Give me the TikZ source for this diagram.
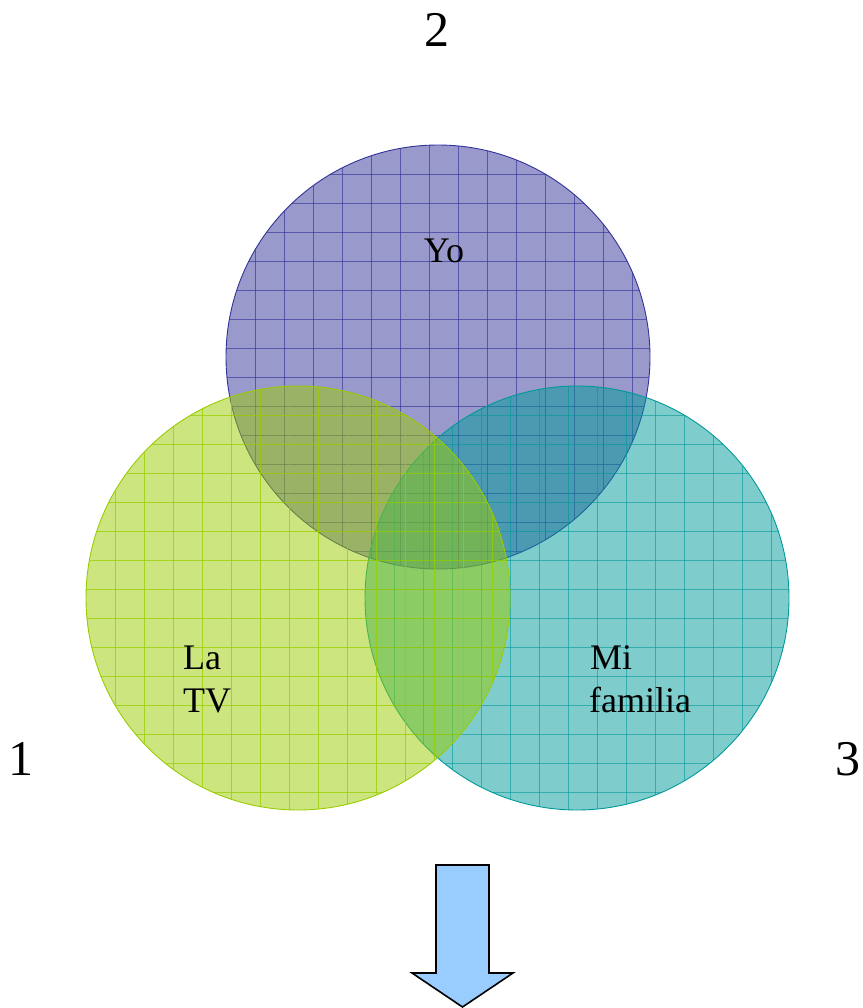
\documentclass[tikz,border=0pt]{standalone}
\usepackage{fontspec}
\setmainfont{Liberation Serif}
\definecolor{cTop}{RGB}{51,51,153}
\definecolor{cLeft}{RGB}{153,204,0}
\definecolor{cRight}{RGB}{0,153,153}
\definecolor{cArrow}{RGB}{153,204,255}
\tikzset{
  lab/.style={inner sep=0pt, font=\fontsize{36}{43}\selectfont},
  num/.style={inner sep=0pt, font=\fontsize{50}{60}\selectfont},
  arrowbox/.style={draw=black, line width=1.6pt, fill=cArrow, line join=miter},
}
\newcommand{\vennset}[4]{% center x, center y, color, grid opacity
  \fill[#3, fill opacity=0.5] (#1,#2) circle (212);
  \begin{scope}
    \clip (#1,#2) circle (212);
    \foreach \k in {1,...,14} {
      \draw[#3, line width=0.9pt, opacity=#4] (#1-212+29*\k, #2-215) -- (#1-212+29*\k, #2+215);
      \draw[#3, line width=0.9pt, opacity=#4] (#1-215, #2-212+29*\k) -- (#1+215, #2-212+29*\k);
    }
  \end{scope}
  \draw[#3, line width=0.9pt] (#1,#2) circle (212);
}
\begin{document}
\begin{tikzpicture}[x=1pt, y=-1pt]
  \useasboundingbox (0,0) rectangle (862,1008);
  \vennset{438}{357}{cTop}{0.65}
  \vennset{577}{598}{cRight}{0.6}
  \vennset{298}{598}{cLeft}{0.75}
  % labels
  \node[lab, anchor=base] (yo) at (444,262) {Yo};
  \node[lab, anchor=base west] (la) at (183,669) {La};
  \node[lab, anchor=base west] (tv) at (183,712) {TV};
  \node[lab, anchor=base west] (mi) at (590,669) {Mi};
  \node[lab, anchor=base west] (fam) at (589,712) {familia};
  \node[num, anchor=base] (n2) at (437,47) {2};
  \node[num, anchor=base west] (n1) at (8,775) {1};
  \node[num, anchor=base west] (n3) at (835,775) {3};
  % block arrow
  \draw[arrowbox] (436,865) -- (489,865) -- (489,973) -- (513,973)
    -- (462.5,1007) -- (412,973) -- (436,973) -- cycle;
\end{tikzpicture}
\end{document}
